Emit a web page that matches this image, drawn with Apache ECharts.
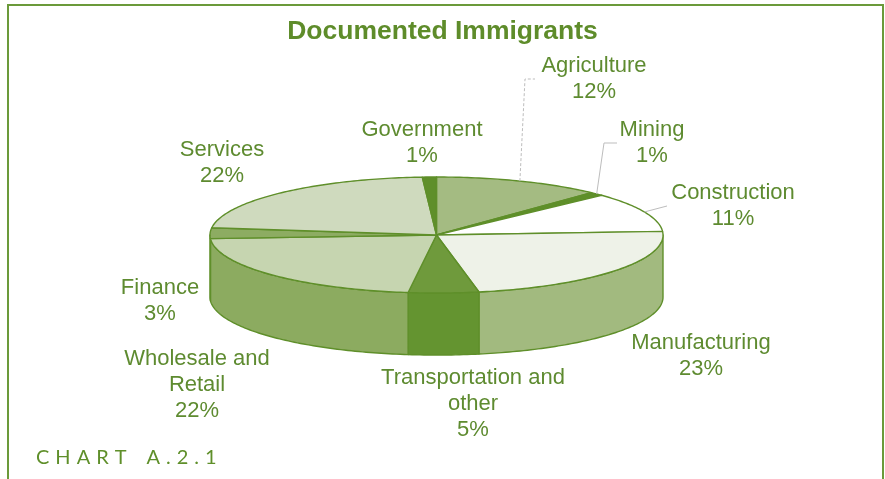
<!DOCTYPE html>
<html>
<head>
<meta charset="utf-8">
<script src="https://cdn.jsdelivr.net/npm/echarts@6/dist/echarts.min.js"></script>
<style>
  html, body { margin: 0; padding: 0; background: #ffffff; }
  #chart { width: 885px; height: 479px; }
</style>
</head>
<body>
<div id="chart"></div>
<script>
// Sectors, listed clockwise from 12 o'clock
const sectors = ['Agriculture', 'Mining', 'Construction', 'Manufacturing',
  'Transportation and\nother', 'Wholesale and\nRetail', 'Finance', 'Services', 'Government'];
// Share of documented immigrants, percent
const shares = [12, 1, 11, 23, 5, 22, 3, 22, 1];

// Slice styling
const topColors  = ['#a4bb82', '#5f8f2a', '#ffffff', '#eef2e8', '#6f9a3c', '#c6d5b0', '#8dac62', '#cfdabe', '#5f8f2a'];
const sideColors = ['#86a65a', '#5f8f2a', '#c9d8b3', '#a2ba7f', '#649430', '#8cab60', '#7fa252', '#a8bf88', '#5f8f2a'];
const edgeColor = '#5f8f2a';
const textColor = '#5e8b30';

// Label block centres (px) and leader-line bend points
const labelAt = [[594, 79], [652, 143], [733, 206], [701, 356], [473, 404],
  [197, 385], [160, 301], [222, 163], [422, 143]];
const leaders = {
  0: { pts: [[525, 79], [535, 79]], dashed: true },
  1: { pts: [[604, 143], [617, 143]] },
  2: { pts: [[667, 206]] }
};

// Pie thickness, in units of the ellipse's vertical radius
const DEPTH = 1.07;

const total = shares.reduce((a, b) => a + b, 0);
const startDeg = [], endDeg = [];
(function () {
  let acc = 0;
  shares.forEach(v => {
    startDeg.push(90 - 360 * acc / total);
    acc += v;
    endDeg.push(90 - 360 * acc / total);
  });
})();

const rad = d => d * Math.PI / 180;
// point on the rim: x axis spans the horizontal radius, y axis the vertical one
function rim(api, deg, drop) {
  return api.coord([Math.cos(rad(deg)), Math.sin(rad(deg)) - (drop || 0)]);
}
function arc(api, a, b, drop) {
  const n = Math.max(2, Math.ceil(Math.abs(a - b)));
  const pts = [];
  for (let k = 0; k <= n; k++) pts.push(rim(api, a + (b - a) * k / n, drop));
  return pts;
}

function renderSide(params, api) {
  const i = params.dataIndex;
  const a = Math.min(startDeg[i], 0);
  const b = Math.max(endDeg[i], -180);
  if (a <= b) return null;
  const upper = arc(api, a, b, 0);
  const lower = arc(api, b, a, DEPTH);
  return {
    type: 'polygon',
    shape: { points: upper.concat(lower) },
    style: { fill: sideColors[i], stroke: edgeColor, lineWidth: 1.4, lineJoin: 'round' }
  };
}

function renderTop(params, api) {
  const i = params.dataIndex;
  const c = api.coord([0, 0]);
  const pts = [c].concat(arc(api, startDeg[i], endDeg[i], 0));
  return {
    type: 'polygon',
    shape: { points: pts },
    style: { fill: topColors[i], stroke: edgeColor, lineWidth: 1.4, lineJoin: 'round' }
  };
}

function renderLabel(params, api) {
  const i = params.dataIndex;
  const children = [];
  const lead = leaders[i];
  if (lead) {
    const mid = (startDeg[i] + endDeg[i]) / 2;
    children.push({
      type: 'polyline',
      shape: { points: [rim(api, mid, 0)].concat(lead.pts) },
      style: { stroke: '#bdbdbd', lineWidth: 1, lineDash: lead.dashed ? [3, 2] : null, fill: null }
    });
  }
  children.push({
    type: 'text',
    style: {
      text: sectors[i] + '\n' + shares[i] + '%',
      x: labelAt[i][0], y: labelAt[i][1],
      align: 'center', verticalAlign: 'middle',
      fill: textColor, fontSize: 22, fontFamily: 'Liberation Sans', lineHeight: 26
    }
  });
  return { type: 'group', children: children };
}

// Letter-spaced caption built from single glyphs
function spacedText(str, x0, y, font, gap, spaceAdvance, color) {
  const ctx = document.createElement('canvas').getContext('2d');
  ctx.font = font;
  const out = [];
  let x = x0;
  for (const ch of str) {
    if (ch === ' ') { x += spaceAdvance + gap; continue; }
    out.push({ type: 'text', x: x, y: y, silent: true,
      style: { text: ch, font: font, fill: color, verticalAlign: 'middle' } });
    x += ctx.measureText(ch).width + gap;
  }
  return out;
}

const sliceData = shares.map(v => [0, 0, v]);

const chart = echarts.init(document.getElementById('chart'), null, { renderer: 'canvas' });
chart.setOption({
  animation: false,
  backgroundColor: '#ffffff',
  title: {
    text: 'Documented Immigrants',
    left: 'center',
    top: 13,
    textStyle: { color: '#5e8c2a', fontSize: 26.5, fontWeight: 'bold', fontFamily: 'Liberation Sans' }
  },
  grid: { left: 210, right: 222, top: 177, bottom: 70, containLabel: false, outerBoundsMode: 'none' },
  xAxis: { type: 'value', min: -1, max: 1, show: false },
  yAxis: { type: 'value', min: -3, max: 1, show: false },
  graphic: [
    {
      type: 'polyline', silent: true,
      shape: { points: [[8, 479], [8, 5], [883, 5], [883, 479]] },
      style: { stroke: '#6b9a3a', lineWidth: 2, fill: null }
    }
  ].concat(spacedText('CHART A.2.1', 36, 458, '20px Lato', 6, 8, '#5f8f2a')),
  series: [
    { type: 'custom', coordinateSystem: 'cartesian2d', renderItem: renderSide, data: sliceData, z: 1, silent: true },
    { type: 'custom', coordinateSystem: 'cartesian2d', renderItem: renderTop, data: sliceData, z: 2, silent: true },
    { type: 'custom', coordinateSystem: 'cartesian2d', renderItem: renderLabel, data: sliceData, z: 3, silent: true }
  ]
});
</script>
</body>
</html>
